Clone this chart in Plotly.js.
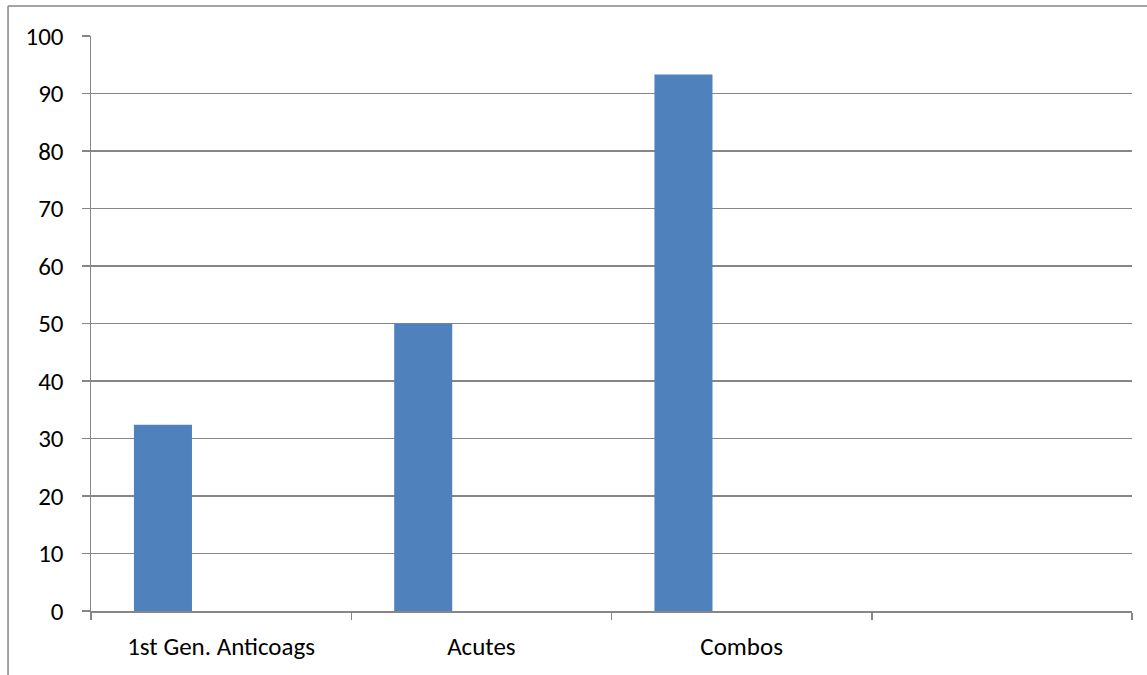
<!DOCTYPE html>
<html>
<head>
<meta charset="utf-8">
<script src="https://cdn.plot.ly/plotly-3.0.1.min.js"></script>
<style>
  html, body { margin: 0; padding: 0; background: #ffffff; }
  #chart { width: 1147px; height: 675px; }
</style>
</head>
<body>
<div id="chart"></div>
<script>
// Product groups (the fourth slot is kept empty on the axis)
const categories = ["1st Gen. Anticoags", "Acutes", "Combos", " "];
const values = [32.4, 50, 93.3, null];
const yTicks = [0, 10, 20, 30, 40, 50, 60, 70, 80, 90, 100];

const axisGray = "#868686";
const fontFamily = "Carlito, Calibri, Lato, 'Liberation Sans', sans-serif";

const trace = {
  type: "bar",
  x: categories,
  y: values,
  width: 0.223,
  offset: -0.335,
  marker: { color: "#4F81BD", line: { width: 0 } },
  hoverinfo: "x+y"
};

const layout = {
  width: 1147,
  height: 675,
  margin: { l: 91, r: 15, t: 36, b: 64 },
  paper_bgcolor: "#ffffff",
  plot_bgcolor: "#ffffff",
  showlegend: false,
  font: { family: fontFamily, size: 25, color: "#000000" },
  xaxis: {
    type: "category",
    categoryorder: "array",
    categoryarray: categories,
    range: [-0.5, 3.5],
    tickson: "boundaries",
    ticks: "outside",
    ticklen: 7,
    tickcolor: axisGray,
    tickwidth: 1.5,
    showline: true,
    linecolor: axisGray,
    linewidth: 1.5,
    showgrid: false,
    zeroline: false,
    fixedrange: true,
    ticklabelstandoff: 12
  },
  yaxis: {
    range: [0, 100],
    tickmode: "array",
    tickvals: yTicks,
    ticktext: yTicks.map(String),
    ticks: "outside",
    ticklen: 8,
    tickcolor: axisGray,
    tickwidth: 1.5,
    showline: true,
    linecolor: axisGray,
    linewidth: 1.5,
    showgrid: true,
    gridcolor: axisGray,
    gridwidth: 1.5,
    zeroline: false,
    fixedrange: true,
    ticklabelstandoff: 13
  },
  shapes: [
    // chart frame: left and top edges
    { type: "line", xref: "paper", yref: "paper", x0: -0.0797, x1: -0.0797, y0: 1.0522, y1: -0.2,
      line: { color: axisGray, width: 1.5 } },
    { type: "line", xref: "paper", yref: "paper", x0: -0.0797, x1: 1.1, y0: 1.0522, y1: 1.0522,
      line: { color: axisGray, width: 1.5 } }
  ]
};

Plotly.newPlot("chart", [trace], layout, { displayModeBar: false, staticPlot: true });
</script>
</body>
</html>
